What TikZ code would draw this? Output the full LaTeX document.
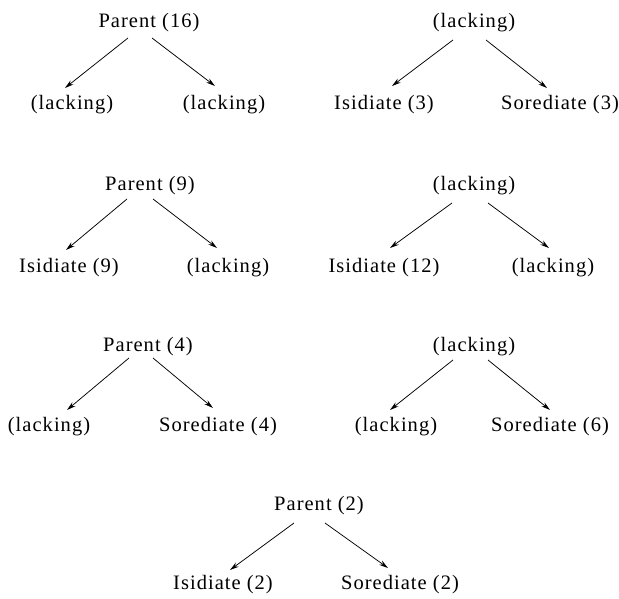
\documentclass[tikz,border=0pt]{standalone}
\usepackage{fontspec}
\setmainfont[LetterSpace=5]{Liberation Serif}
\usetikzlibrary{arrows.meta}
\begin{document}
\begin{tikzpicture}[x=1pt,y=1pt,
  lbl/.style={anchor=base,inner sep=0pt,font=\fontsize{20.5}{24}\selectfont},
  arr/.style={line width=0.75pt,-{Stealth[length=9pt,width=5pt]}}]
\useasboundingbox (0,0) rectangle (619,-599);
% Tree 1
\node[lbl] (p1) at (149,-28) {Parent (16)};
\node[lbl] (a1) at (72,-110) {(lacking)};
\node[lbl] (b1) at (224,-110) {(lacking)};
\draw[arr] ([shift={(-21,-10)}]p1.base) -- ([shift={(-7,22)}]a1.base);
\draw[arr] ([shift={(3,-10)}]p1.base) -- ([shift={(-9,24)}]b1.base);
% Tree 2
\node[lbl] (p2) at (474,-28) {(lacking)};
\node[lbl] (a2) at (384,-110) {Isidiate (3)};
\node[lbl] (b2) at (560,-110) {Sorediate (3)};
\draw[arr] ([shift={(-21,-12)}]p2.base) -- ([shift={(8,24)}]a2.base);
\draw[arr] ([shift={(12,-12)}]p2.base) -- ([shift={(-13,22)}]b2.base);
% Tree 3
\node[lbl] (p3) at (150,-191) {Parent (9)};
\node[lbl] (a3) at (69,-272) {Isidiate (9)};
\node[lbl] (b3) at (228,-272) {(lacking)};
\draw[arr] ([shift={(-23,-8)}]p3.base) -- ([shift={(-3,22)}]a3.base);
\draw[arr] ([shift={(3,-8)}]p3.base) -- ([shift={(-11,24)}]b3.base);
% Tree 4
\node[lbl] (p4) at (474,-191) {(lacking)};
\node[lbl] (a4) at (384,-272) {Isidiate (12)};
\node[lbl] (b4) at (553,-272) {(lacking)};
\draw[arr] ([shift={(-22,-12)}]p4.base) -- ([shift={(6,24)}]a4.base);
\draw[arr] ([shift={(14,-12)}]p4.base) -- ([shift={(-4,24)}]b4.base);
% Tree 5
\node[lbl] (p5) at (148,-351) {Parent (4)};
\node[lbl] (a5) at (49,-431) {(lacking)};
\node[lbl] (b5) at (218,-431) {Sorediate (4)};
\draw[arr] ([shift={(-19,-7)}]p5.base) -- ([shift={(18,21)}]a5.base);
\draw[arr] ([shift={(5,-7)}]p5.base) -- ([shift={(-5,23)}]b5.base);
% Tree 6
\node[lbl] (p6) at (474,-351) {(lacking)};
\node[lbl] (a6) at (396,-431) {(lacking)};
\node[lbl] (b6) at (550,-431) {Sorediate (6)};
\draw[arr] ([shift={(-21,-9)}]p6.base) -- ([shift={(-6,21)}]a6.base);
\draw[arr] ([shift={(14,-9)}]p6.base) -- ([shift={(0,21)}]b6.base);
% Tree 7
\node[lbl] (p7) at (319,-510) {Parent (2)};
\node[lbl] (a7) at (223,-589) {Isidiate (2)};
\node[lbl] (b7) at (400,-589) {Sorediate (2)};
\draw[arr] ([shift={(-25,-13)}]p7.base) -- ([shift={(7,19)}]a7.base);
\draw[arr] ([shift={(6,-13)}]p7.base) -- ([shift={(-12,21)}]b7.base);
\end{tikzpicture}
\end{document}
